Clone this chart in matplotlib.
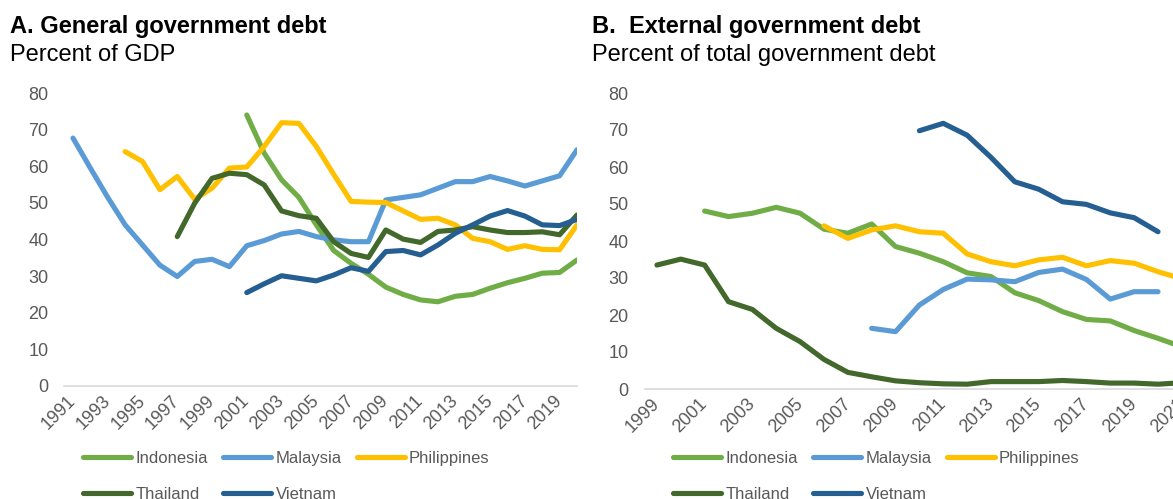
import numpy as np
import matplotlib
matplotlib.use('Agg')
from matplotlib import pyplot as plt

plt.rcParams['font.family'] = ['Liberation Sans', 'DejaVu Sans']

#------------------------------------------------------------
# Data
countries = ['Indonesia', 'Malaysia', 'Philippines', 'Thailand', 'Vietnam']
colors = ['#70AD47', '#5B9BD5', '#FFC000', '#43682B', '#255E91']

# A. General government debt, percent of GDP
gen_start = [2001, 1991, 1994, 1997, 2001]
gen_indonesia = [74.0, 63.6, 56.3, 51.5, 44.0, 37.0, 33.5, 30.5, 27.0, 25.0,
                 23.5, 23.0, 24.5, 25.0, 26.7, 28.2, 29.4, 30.8, 31.0, 34.4]
gen_malaysia = [67.7, 59.5, 51.5, 44.0, 38.5, 33.0, 29.9, 34.0, 34.6, 32.6,
                38.3, 39.7, 41.5, 42.2, 40.8, 39.9, 39.4, 39.4, 50.8, 51.5,
                52.2, 54.0, 55.8, 55.8, 57.2, 56.0, 54.6, 56.0, 57.4, 64.5]
gen_philippines = [64.0, 61.3, 53.6, 57.2, 51.0, 54.0, 59.5,
                   59.8, 65.4, 71.9, 71.7, 65.4, 57.8, 50.4, 50.2, 50.1, 47.8,
                   45.5, 45.8, 44.0, 40.3, 39.4, 37.3, 38.3, 37.3, 37.2, 44.0]
gen_thailand = [40.8, 49.9, 56.7, 58.1,
                57.7, 54.9, 47.8, 46.5, 45.8, 39.4, 36.2, 35.1, 42.6, 40.1,
                39.2, 42.2, 42.6, 43.5, 42.6, 41.9, 41.9, 42.1, 41.3, 46.7]
gen_vietnam = [25.5, 27.9, 30.1, 29.4, 28.7, 30.3, 32.3, 31.3, 36.7, 37.0,
               35.8, 38.5, 41.7, 44.0, 46.4, 47.9, 46.4, 44.0, 43.8, 45.5]

# B. External government debt, percent of total government debt
ext_start = [2001, 2008, 2006, 1999, 2010]
ext_indonesia = [48.1, 46.6, 47.5, 49.1, 47.5, 43.2, 42.1, 44.6, 38.5, 36.7,
                 34.4, 31.4, 30.4, 26.0, 23.9, 20.9, 18.8, 18.4, 15.8, 13.7, 11.4]
ext_malaysia = [16.4, 15.5, 22.7, 26.9, 29.7, 29.5, 29.0, 31.5, 32.4, 29.6,
                24.3, 26.3, 26.3]
ext_philippines = [44.1, 40.7, 43.0, 44.1, 42.5, 42.1, 36.5, 34.4, 33.3, 34.9,
                   35.6, 33.3, 34.7, 34.0, 31.7, 29.8]
ext_thailand = [33.5, 35.1, 33.5, 23.6, 21.5, 16.4, 12.8, 8.0, 4.5, 3.3, 2.2,
                1.7, 1.4, 1.3, 2.0, 2.0, 2.0, 2.3, 2.0, 1.6, 1.6, 1.3, 1.7]
ext_vietnam = [69.8, 71.8, 68.6, 62.6, 56.0, 54.0, 50.6, 49.9, 47.6, 46.3, 42.5]

gen_series = [gen_indonesia, gen_malaysia, gen_philippines, gen_thailand, gen_vietnam]
ext_series = [ext_indonesia, ext_malaysia, ext_philippines, ext_thailand, ext_vietnam]

grey = '#595959'


def draw_panel(ax, starts, series, xlim, xticks, ypad):
    lines = []
    for start, vals, name, col in zip(starts, series, countries, colors):
        yrs = np.arange(start, start + len(vals))
        ln, = ax.plot(yrs, vals, color=col, lw=3.7, label=name,
                      solid_capstyle='round', solid_joinstyle='round')
        lines.append(ln)
    ax.set_xlim(*xlim)
    ax.set_ylim(0, 80)
    ax.set_yticks(np.arange(0, 81, 10))
    ax.set_xticks(xticks)
    ax.set_xticklabels([str(y) for y in xticks], rotation=45, ha='right',
                       rotation_mode='anchor', va='center')
    ax.tick_params(axis='both', length=0, labelsize=13, colors=grey)
    ax.tick_params(axis='y', pad=ypad)
    ax.tick_params(axis='x', pad=9)
    for s in ['top', 'right', 'left']:
        ax.spines[s].set_visible(False)
    ax.spines['bottom'].set_color('#D9D9D9')
    ax.spines['bottom'].set_linewidth(1.2)
    return lines


#------------------------------------------------------------
# set up the plot
W, H = 1173, 499
fig = plt.figure(figsize=(W / 100, H / 100), dpi=100)

ax0 = fig.add_axes([64.3 / W, 113 / H, (577 - 64.3) / W, 293 / H])
ax1 = fig.add_axes([645 / W, 110 / H, 548.8 / W, 296 / H])

lines0 = draw_panel(ax0, gen_start, gen_series, (1990.5, 2020.0),
                    list(range(1991, 2020, 2)), 11.5)
lines1 = draw_panel(ax1, ext_start, ext_series, (1998.5, 2021.5),
                    list(range(1999, 2022, 2)), 12)

# legends: row-major order Indonesia, Malaysia, Philippines / Thailand, Vietnam
order = [0, 3, 1, 4, 2]
for lines, x0 in [(lines0, 83), (lines1, 673)]:
    leg = fig.legend([lines[i] for i in order], [countries[i] for i in order],
                     ncol=3, loc='upper left', bbox_to_anchor=(x0 / W, 1 - 451 / H),
                     frameon=False, fontsize=12, handlelength=2.9,
                     handletextpad=0.25, columnspacing=0.9, labelspacing=1.25,
                     borderpad=0, borderaxespad=0)
    for t in leg.get_texts():
        t.set_color(grey)

# titles
fig.text(10 / W, 1 - 33 / H, 'A. General government debt', fontsize=17,
         fontweight='bold', va='baseline')
fig.text(10 / W, 1 - 61 / H, 'Percent of GDP', fontsize=17, va='baseline')
fig.text(592 / W, 1 - 33 / H, 'B.  External government debt', fontsize=17,
         fontweight='bold', va='baseline')
fig.text(592 / W, 1 - 61 / H, 'Percent of total government debt', fontsize=17,
         va='baseline')

fig.savefig('out.png', dpi=100)
